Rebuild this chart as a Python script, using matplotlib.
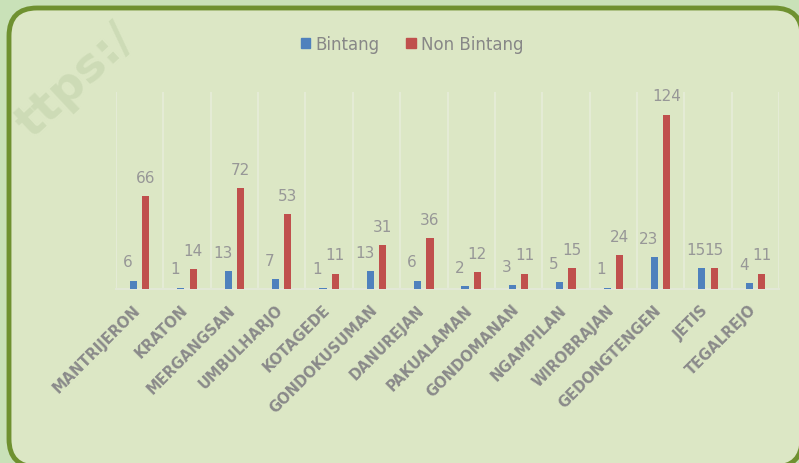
import matplotlib.pyplot as plt
import numpy as np
from matplotlib.patches import FancyBboxPatch, Patch
from matplotlib.transforms import IdentityTransform, ScaledTranslation

categories = [
    "MANTRIJERON", "KRATON", "MERGANGSAN", "UMBULHARJO", "KOTAGEDE",
    "GONDOKUSUMAN", "DANUREJAN", "PAKUALAMAN", "GONDOMANAN", "NGAMPILAN",
    "WIROBRAJAN", "GEDONGTENGEN", "JETIS", "TEGALREJO",
]
bintang = [6, 1, 13, 7, 1, 13, 6, 2, 3, 5, 1, 23, 15, 4]
non_bintang = [66, 14, 72, 53, 11, 31, 36, 12, 11, 15, 24, 124, 15, 11]

BLUE = "#4f81bd"
RED = "#c0504d"
LABEL_GREY = "#979797"

fig = plt.figure(figsize=(7.99, 4.64), dpi=100)
fig.patch.set_facecolor("#c9e1b8")

# rounded panel (pixel coords, origin bottom-left)
frame = FancyBboxPatch(
    (9, -4), 793, 459,
    boxstyle="round,pad=0,rounding_size=28",
    transform=IdentityTransform(), facecolor="#dce7c5", edgecolor="#6f9130",
    linewidth=3.5, zorder=-2,
)
fig.patches.append(frame)

# faint watermark (only the part that shows in the original)
fig.text(0.04, 0.70, "ttps:/", rotation=43, rotation_mode="anchor", fontsize=34,
         fontweight="bold", color="#cddbb6", ha="left", va="baseline", zorder=-1)

ax = fig.add_axes([116 / 799, 174 / 464, 663 / 799, 197 / 464])
ax.set_facecolor("none")

x = np.arange(len(categories))
w = 0.15
b1 = ax.bar(x - 0.13, bintang, width=w, color=BLUE, zorder=3)
b2 = ax.bar(x + 0.13, non_bintang, width=w, color=RED, zorder=3)

for rect, v in zip(b1, bintang):
    ax.annotate(str(v), (rect.get_x() + rect.get_width() / 2, rect.get_height()),
                xytext=(-4, 8), textcoords="offset points", ha="center", va="bottom",
                fontsize=11, color=LABEL_GREY, zorder=4)
for rect, v in zip(b2, non_bintang):
    ax.annotate(str(v), (rect.get_x() + rect.get_width() / 2, rect.get_height()),
                xytext=(0, 8), textcoords="offset points", ha="center", va="bottom",
                fontsize=11, color=LABEL_GREY, zorder=4)

ax.set_xlim(-0.5, len(categories) - 0.5)
ax.set_ylim(0, 140)

# category separators
for b in np.arange(-0.5, len(categories), 1.0):
    ax.axvline(b, color="#e6ecd9", linewidth=1.2, zorder=1)

for s in ["top", "right", "left"]:
    ax.spines[s].set_visible(False)
ax.spines["bottom"].set_color("#e2e8d6")
ax.spines["bottom"].set_linewidth(1.5)
ax.set_yticks([])
ax.set_xticks(x)
ax.set_xticklabels(categories, rotation=45, ha="right", rotation_mode="anchor",
                   fontsize=10.5, fontweight="bold", color="#8a8a8a")
ax.tick_params(axis="x", length=0, pad=9)
shift = ScaledTranslation(-5 / 72, 0, fig.dpi_scale_trans)
for lbl in ax.get_xticklabels():
    lbl.set_transform(lbl.get_transform() + shift)

handles = [Patch(color=BLUE, label="Bintang"), Patch(color=RED, label="Non Bintang")]
fig.legend(handles=handles, loc="center", bbox_to_anchor=(0.516, 0.903), ncol=2,
           frameon=False, fontsize=12, labelcolor="#878787",
           handlelength=0.55, handleheight=0.55, handletextpad=0.35, columnspacing=1.6)

fig.savefig("out.png", dpi=100, facecolor=fig.get_facecolor())
